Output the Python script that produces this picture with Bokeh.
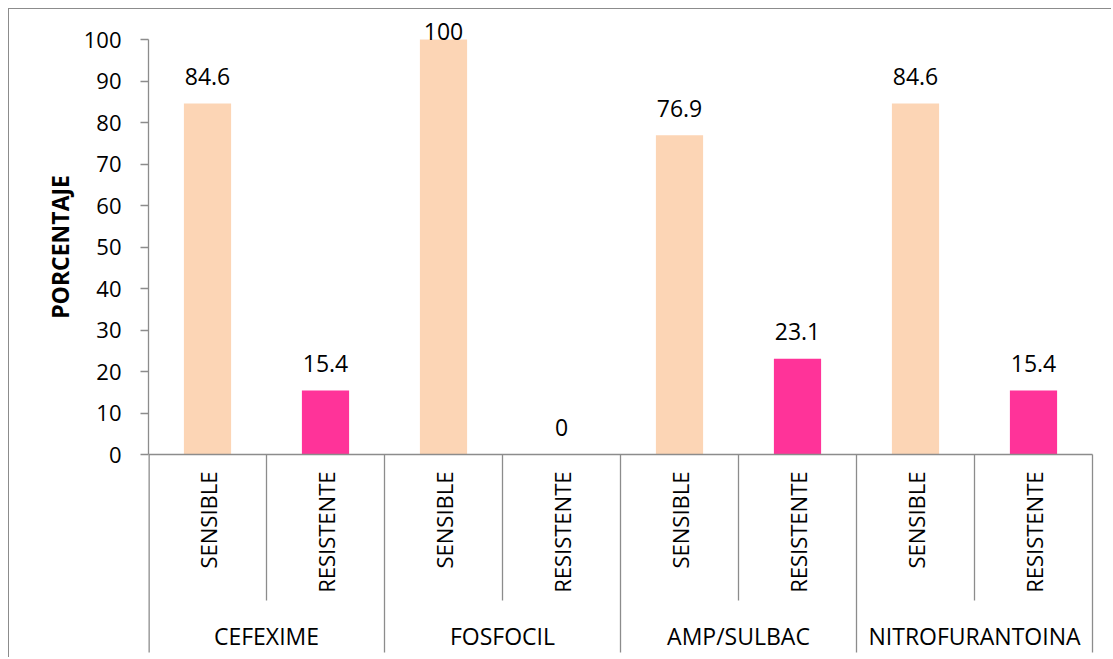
import numpy as np
from bokeh.plotting import figure
from bokeh.models import Range1d, FixedTicker, ColumnDataSource, Title
from bokeh.core.properties import value
from bokeh.embed import file_html
from bokeh.resources import INLINE

# ---- data ----
groups = ["CEFEXIME", "FOSFOCIL", "AMP/SULBAC", "NITROFURANTOINA"]
subcats = ["SENSIBLE", "RESISTENTE"]
sensible = [84.6, 100, 76.9, 84.6]
resistente = [15.4, 0, 23.1, 15.4]
y_ticks = [0, 10, 20, 30, 40, 50, 60, 70, 80, 90, 100]
y_title = "PORCENTAJE"

peach = "#FCD5B5"
pink = "#FF3399"
gray = "#8c8c8c"
FONT = "Open Sans"

# ---- layout constants (pixels) ----
PX_PER_UNIT = 4.15     # pixels per percentage point
SLOT = 118.0           # pixels per category slot
W, H = 1103, 649
LEFT = 139
ZERO_Y = 445           # canvas y of value 0
frame_w = W - LEFT

vals, xs, cols, subs = [], [], [], []
for i, g in enumerate(groups):
    for j, (s, v) in enumerate(zip(subcats, [sensible[i], resistente[i]])):
        xs.append(2 * i + j + 0.5)
        vals.append(v)
        cols.append(peach if j == 0 else pink)
        subs.append(s)
vals_a = np.array(vals, dtype=float)
labels = [f"{v:g}" for v in vals]
label_y = np.minimum(vals_a + 27 / PX_PER_UNIT, max(y_ticks) + 8 / PX_PER_UNIT)

src = ColumnDataSource(dict(x=xs, top=vals, color=cols, label=labels, ly=label_y, sub=subs))

p = figure(width=W, height=H,
           x_range=Range1d(0, frame_w / SLOT),
           y_range=Range1d(-(H - ZERO_Y) / PX_PER_UNIT, ZERO_Y / PX_PER_UNIT),
           x_axis_type=None,
           output_backend="svg", toolbar_location=None,
           min_border_left=LEFT, min_border_right=0,
           min_border_top=0, min_border_bottom=0)
p.styles = {"margin-left": "8px", "margin-top": "8px",
            "border-left": f"1px solid {gray}", "border-top": f"1px solid {gray}"}
p.outline_line_color = None
p.grid.visible = False
p.background_fill_color = "white"
p.border_fill_color = "white"

ax = p.yaxis[0]
ax.ticker = FixedTicker(ticks=y_ticks)
ax.bounds = (0, 100)
ax.axis_line_color = gray
ax.axis_line_width = 1.3
ax.major_tick_line_color = gray
ax.major_tick_line_width = 1.3
ax.major_tick_out = 8
ax.major_tick_in = 0
ax.minor_tick_line_color = None
ax.major_label_text_font = FONT
ax.major_label_text_font_size = "22px"
ax.major_label_text_color = "black"
ax.major_label_standoff = 19

# y axis title, centred on the 0-100 span (offset from the top of the frame)
p.add_layout(Title(text=y_title, align="right", offset=165.5, vertical_align="middle",
                   text_font=FONT, text_font_size="23px", text_font_style="bold",
                   text_color="black", standoff=8), "left")

# bars
p.vbar(x="x", top="top", bottom=0, width=0.4, fill_color="color", line_color=None, source=src)

# value labels
p.text(x="x", y="ly", text="label", source=src, text_align="center", text_baseline="middle",
       text_font=value(FONT), text_font_size="23px", text_color="black")

# baseline
n = len(xs)
p.segment(x0=[0], y0=[0], x1=[n], y1=[0], line_color=gray, line_width=1.3)

# separators
inner_x = [2 * i + 1 for i in range(len(groups))]
outer_x = [2 * i + 2 for i in range(len(groups))]
p.segment(x0=inner_x, y0=[0] * len(inner_x), x1=inner_x, y1=[-146 / PX_PER_UNIT] * len(inner_x),
          line_color=gray, line_width=1.3)
p.segment(x0=outer_x, y0=[0] * len(outer_x), x1=outer_x, y1=[-198 / PX_PER_UNIT] * len(outer_x),
          line_color=gray, line_width=1.3)
p.segment(x0=[0], y0=[0], x1=[0], y1=[-198 / PX_PER_UNIT], line_color=gray, line_width=2.6)

# sub-category labels (vertical)
p.text(x="x", y=-17 / PX_PER_UNIT, text="sub", source=src, angle=np.pi / 2,
       text_align="right", text_baseline="middle",
       text_font=value(FONT), text_font_size="22px", text_color="black")

# group labels
gsrc = ColumnDataSource(dict(x=[2 * i + 1 for i in range(len(groups))], t=groups))
p.text(x="x", y=-181 / PX_PER_UNIT, text="t", source=gsrc, text_align="center", text_baseline="middle",
       text_font=value(FONT), text_font_size="23px", text_color="black")

open("out.html", "w").write(file_html(p, INLINE))
